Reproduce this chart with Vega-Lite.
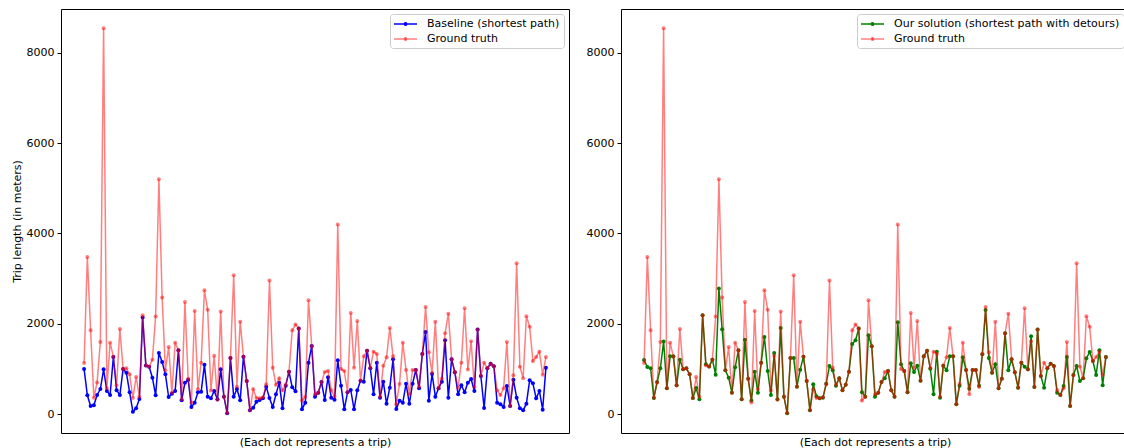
{
  "$schema": "https://vega.github.io/schema/vega-lite/v6.json",
  "padding": {"left": 10, "top": 8, "right": 0, "bottom": 0},
  "background": "#ffffff",
  "config": {
    "font": "DejaVu Sans",
    "view": {"stroke": "#000000", "strokeWidth": 1},
    "axis": {"domain": false, "grid": false, "labelFont": "DejaVu Sans", "labelFontSize": 11, "labelColor": "#000000", "tickColor": "#000000", "tickSize": 4, "titleFont": "DejaVu Sans", "titleFontWeight": "normal", "titleFontSize": 11, "titleColor": "#000000"},
    "axisY": {"labelPadding": 3, "titlePadding": 4, "format": "d"},
    "legend": {"title": null, "orient": "top-right", "offset": 5, "padding": 4, "fillColor": "#ffffff", "strokeColor": "#cccccc", "cornerRadius": 3, "symbolType": "M-1.2,0L3.4,0M0.86,0A0.24,0.24,0,1,1,1.34,0A0.24,0.24,0,1,1,0.86,0", "symbolSize": 100, "symbolStrokeWidth": 1.5, "labelFont": "DejaVu Sans", "labelFontSize": 11, "labelColor": "#000000", "labelOffset": 21, "rowPadding": 4, "labelLimit": 400}
  },
  "datasets": {
    "trips": [
      {"t":0,"gt":1131,"b":998,"o":1197},{"t":1,"gt":3480,"b":414,"o":1042},{"t":2,"gt":1854,"b":177,"o":1012},{"t":3,"gt":360,"b":192,"o":355},{"t":4,"gt":700,"b":421,"o":709},{"t":5,"gt":1596,"b":554,"o":1012},{"t":6,"gt":8550,"b":990,"o":1604},{"t":7,"gt":569,"b":510,"o":569},{"t":8,"gt":1581,"b":421,"o":1278},{"t":9,"gt":1270,"b":1264,"o":1278},
      {"t":10,"gt":632,"b":525,"o":636},{"t":11,"gt":1884,"b":421,"o":1205},{"t":12,"gt":994,"b":998,"o":990},{"t":13,"gt":1012,"b":916,"o":1012},{"t":14,"gt":880,"b":480,"o":880},{"t":15,"gt":355,"b":52,"o":355},{"t":16,"gt":820,"b":126,"o":576},{"t":17,"gt":384,"b":333,"o":325},{"t":18,"gt":2187,"b":2136,"o":2187},{"t":19,"gt":1075,"b":1075,"o":1100},
      {"t":20,"gt":1045,"b":1045,"o":1050},{"t":21,"gt":1205,"b":805,"o":1205},{"t":22,"gt":2158,"b":414,"o":872},{"t":23,"gt":5200,"b":1352,"o":2779},{"t":24,"gt":2579,"b":1153,"o":1877},{"t":25,"gt":972,"b":880,"o":968},{"t":26,"gt":1485,"b":377,"o":805},{"t":27,"gt":473,"b":451,"o":473},{"t":28,"gt":1581,"b":510,"o":1035},{"t":29,"gt":1411,"b":1411,"o":1411},
      {"t":30,"gt":325,"b":303,"o":325},{"t":31,"gt":2483,"b":695,"o":1648},{"t":32,"gt":783,"b":761,"o":783},{"t":33,"gt":255,"b":155,"o":300},{"t":34,"gt":2283,"b":251,"o":938},{"t":35,"gt":547,"b":480,"o":473},{"t":36,"gt":1138,"b":495,"o":1138},{"t":37,"gt":2745,"b":1094,"o":1707},{"t":38,"gt":2310,"b":384,"o":953},{"t":39,"gt":520,"b":347,"o":421},
      {"t":40,"gt":1290,"b":510,"o":1352},{"t":41,"gt":318,"b":325,"o":325},{"t":42,"gt":2269,"b":990,"o":1907},{"t":43,"gt":384,"b":384,"o":384},{"t":44,"gt":22,"b":15,"o":15},{"t":45,"gt":1241,"b":1241,"o":1241},{"t":46,"gt":3074,"b":384,"o":1241},{"t":47,"gt":606,"b":554,"o":606},{"t":48,"gt":2047,"b":303,"o":983},{"t":49,"gt":1271,"b":1271,"o":1271},
      {"t":50,"gt":731,"b":731,"o":731},{"t":51,"gt":81,"b":81,"o":81},{"t":52,"gt":547,"b":140,"o":658},{"t":53,"gt":355,"b":273,"o":392},{"t":54,"gt":350,"b":310,"o":347},{"t":55,"gt":370,"b":347,"o":362},{"t":56,"gt":660,"b":606,"o":672},{"t":57,"gt":2956,"b":355,"o":1064},{"t":58,"gt":1027,"b":155,"o":968},{"t":59,"gt":650,"b":436,"o":628},
      {"t":60,"gt":791,"b":695,"o":791},{"t":61,"gt":525,"b":126,"o":525},{"t":62,"gt":650,"b":628,"o":650},{"t":63,"gt":939,"b":939,"o":939},{"t":64,"gt":1855,"b":591,"o":1552},{"t":65,"gt":1981,"b":502,"o":1633},{"t":66,"gt":1892,"b":1892,"o":1892},{"t":67,"gt":300,"b":103,"o":480},{"t":68,"gt":384,"b":251,"o":384},{"t":69,"gt":2520,"b":1138,"o":1744},
      {"t":70,"gt":1500,"b":1508,"o":1500},{"t":71,"gt":436,"b":384,"o":384},{"t":72,"gt":473,"b":473,"o":473},{"t":73,"gt":709,"b":709,"o":709},{"t":74,"gt":931,"b":310,"o":791},{"t":75,"gt":953,"b":813,"o":953},{"t":76,"gt":525,"b":362,"o":525},{"t":77,"gt":384,"b":318,"o":384},{"t":78,"gt":4200,"b":1190,"o":2032},{"t":79,"gt":998,"b":628,"o":1101},
      {"t":80,"gt":953,"b":103,"o":953},{"t":81,"gt":480,"b":480,"o":480},{"t":82,"gt":2239,"b":532,"o":1123},{"t":83,"gt":1027,"b":103,"o":931},{"t":84,"gt":2062,"b":525,"o":1072},{"t":85,"gt":739,"b":739,"o":739},{"t":86,"gt":1278,"b":717,"o":1278},{"t":87,"gt":1404,"b":1404,"o":1404},{"t":88,"gt":1020,"b":1012,"o":1005},{"t":89,"gt":1382,"b":436,"o":436},
      {"t":90,"gt":1330,"b":1138,"o":1382},{"t":91,"gt":384,"b":362,"o":362},{"t":92,"gt":1072,"b":717,"o":1072},{"t":93,"gt":1256,"b":229,"o":968},{"t":94,"gt":1907,"b":584,"o":1278},{"t":95,"gt":1278,"b":1212,"o":1278},{"t":96,"gt":214,"b":111,"o":214},{"t":97,"gt":665,"b":296,"o":628},{"t":98,"gt":1581,"b":251,"o":1256},{"t":99,"gt":975,"b":672,"o":975},
      {"t":100,"gt":436,"b":229,"o":562},{"t":101,"gt":975,"b":672,"o":975},{"t":102,"gt":975,"b":975,"o":975},{"t":103,"gt":600,"b":569,"o":628},{"t":104,"gt":1330,"b":1330,"o":1323},{"t":105,"gt":2372,"b":1818,"o":2306},{"t":106,"gt":1367,"b":296,"o":1241},{"t":107,"gt":916,"b":887,"o":916},{"t":108,"gt":2047,"b":384,"o":1101},{"t":109,"gt":569,"b":569,"o":569},
      {"t":110,"gt":783,"b":717,"o":783},{"t":111,"gt":1790,"b":1633,"o":1788},{"t":112,"gt":2224,"b":362,"o":968},{"t":113,"gt":1215,"b":1215,"o":1212},{"t":114,"gt":924,"b":924,"o":924},{"t":115,"gt":584,"b":436,"o":584},{"t":116,"gt":1138,"b":636,"o":1138},{"t":117,"gt":2343,"b":480,"o":1049},{"t":118,"gt":985,"b":695,"o":990},{"t":119,"gt":1611,"b":776,"o":1722},
      {"t":120,"gt":599,"b":510,"o":599},{"t":121,"gt":1870,"b":1870,"o":1870},{"t":122,"gt":842,"b":842,"o":842},{"t":123,"gt":1138,"b":133,"o":584},{"t":124,"gt":1012,"b":1012,"o":1012},{"t":125,"gt":1116,"b":1116,"o":1116},{"t":126,"gt":1060,"b":1060,"o":1064},{"t":127,"gt":525,"b":251,"o":473},{"t":128,"gt":421,"b":214,"o":421},{"t":129,"gt":569,"b":155,"o":621},
      {"t":130,"gt":1596,"b":621,"o":1264},{"t":131,"gt":177,"b":177,"o":177},{"t":132,"gt":860,"b":761,"o":865},{"t":133,"gt":3340,"b":362,"o":1064},{"t":134,"gt":1049,"b":126,"o":731},{"t":135,"gt":791,"b":81,"o":791},{"t":136,"gt":2165,"b":229,"o":1234},{"t":137,"gt":1936,"b":746,"o":1374},{"t":138,"gt":1175,"b":680,"o":1175},{"t":139,"gt":1264,"b":347,"o":865},
      {"t":140,"gt":1382,"b":510,"o":1411},{"t":141,"gt":872,"b":96,"o":636},{"t":142,"gt":1264,"b":1027,"o":1264}
    ]
  },
  "spacing": 15,
  "resolve": {"scale": {"color": "independent", "y": "independent", "x": "independent"}, "legend": {"color": "independent"}},
  "hconcat": [
    {
      "width": 508,
      "height": 424,
      "data": {"name": "trips"},
      "encoding": {
        "x": {"field": "t", "type": "quantitative", "scale": {"domain": [-7.1, 149.1], "nice": false, "zero": false}, "axis": {"title": "(Each dot represents a trip)", "labels": false, "ticks": false, "titlePadding": 3}}
      },
      "layer": [
        {
          "mark": {"type": "line", "strokeWidth": 1.5, "point": {"filled": true, "size": 16}},
          "encoding": {
            "y": {"field": "b", "type": "quantitative", "scale": {"domain": [-421, 8975], "nice": false, "zero": false}, "axis": {"title": "Trip length (in meters)", "values": [0, 2000, 4000, 6000, 8000]}},
            "color": {"datum": "Baseline (shortest path)", "type": "nominal", "scale": {"domain": ["Baseline (shortest path)", "Ground truth"], "range": ["#0000ff", "rgba(255,0,0,0.5)"]}}
          }
        },
        {
          "mark": {"type": "line", "strokeWidth": 1.5, "point": {"filled": true, "size": 16}},
          "encoding": {
            "y": {"field": "gt", "type": "quantitative"},
            "color": {"datum": "Ground truth", "type": "nominal"}
          }
        }
      ]
    },
    {
      "width": 508,
      "height": 424,
      "data": {"name": "trips"},
      "encoding": {
        "x": {"field": "t", "type": "quantitative", "scale": {"domain": [-7.1, 149.1], "nice": false, "zero": false}, "axis": {"title": "(Each dot represents a trip)", "labels": false, "ticks": false, "titlePadding": 3}}
      },
      "layer": [
        {
          "mark": {"type": "line", "strokeWidth": 1.5, "point": {"filled": true, "size": 16}},
          "encoding": {
            "y": {"field": "o", "type": "quantitative", "scale": {"domain": [-421, 8975], "nice": false, "zero": false}, "axis": {"title": null, "values": [0, 2000, 4000, 6000, 8000]}},
            "color": {"datum": "Our solution (shortest path with detours)", "type": "nominal", "scale": {"domain": ["Our solution (shortest path with detours)", "Ground truth"], "range": ["#008000", "rgba(255,0,0,0.5)"]}}
          }
        },
        {
          "mark": {"type": "line", "strokeWidth": 1.5, "point": {"filled": true, "size": 16}},
          "encoding": {
            "y": {"field": "gt", "type": "quantitative"},
            "color": {"datum": "Ground truth", "type": "nominal"}
          }
        }
      ]
    }
  ]
}
